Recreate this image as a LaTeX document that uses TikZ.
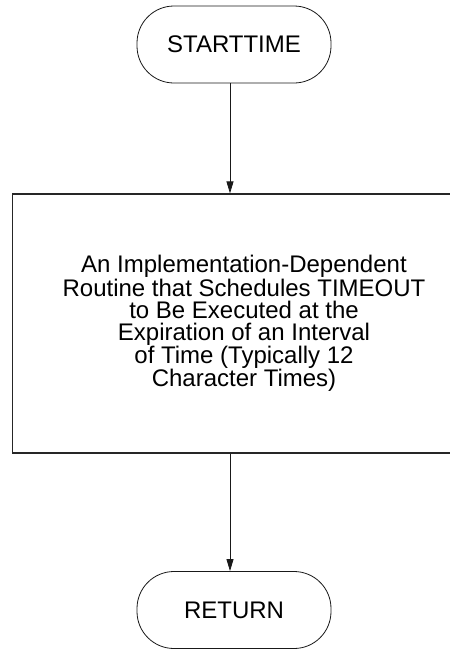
\documentclass[tikz,border=0pt]{standalone}
\usepackage{fontspec}
\setmainfont{Liberation Sans}
\usetikzlibrary{arrows.meta}

\begin{document}
\begin{tikzpicture}[
    x=1pt, y=-1pt,
    every node/.style={font=\fontsize{24}{22}\selectfont},
    terminal/.style={draw=black!90, line width=0.8pt, rounded corners=37pt, minimum width=194pt, minimum height=77pt, inner sep=0pt},
    process/.style={draw=black!85, line width=1.2pt, minimum width=463pt, minimum height=259pt, align=center, inner sep=0pt},
    flow/.style={draw=black!90, line width=0.8pt, -{Triangle[length=12pt, width=7pt]}}
]
    % --- Rahmen ---
    \useasboundingbox (0,0) rectangle (450,649);
    \clip (0,0) rectangle (450,649);

    % --- Knoten ---
    \node[terminal] (starttime) at (234,44.5) {STARTTIME};
    \node[process] (routine) at (244,323.5) {An Implementation-Dependent\\
        Routine that Schedules TIMEOUT\\
        to Be Executed at the\\
        Expiration of an Interval\\
        of Time (Typically 12\\
        Character Times)};
    \node[terminal] (return) at (234,610) {RETURN};

    % --- Verbindungen ---
    \coordinate (spine) at (230,0);
    \draw[flow] (starttime.south -| spine) -- (routine.north -| spine);
    \draw[flow] (routine.south -| spine) -- (return.north -| spine);

\end{tikzpicture}
\end{document}
